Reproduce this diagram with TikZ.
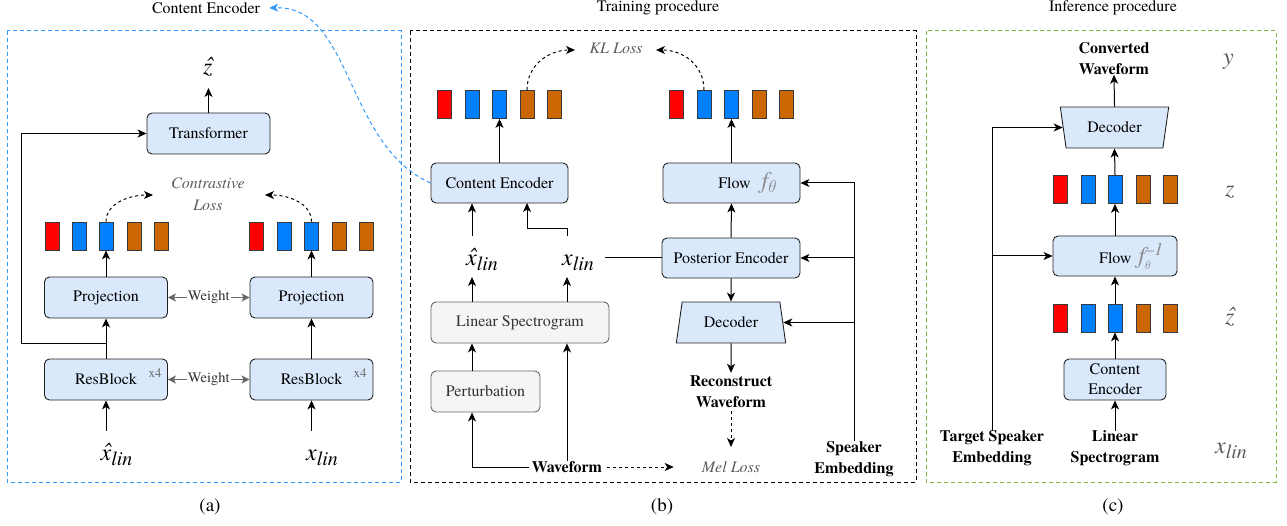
\documentclass[tikz,border=0pt]{standalone}
\usepackage{fontspec}
\setmainfont{texgyretermes}[Extension=.otf, UprightFont=*-regular, BoldFont=*-bold, ItalicFont=*-italic, BoldItalicFont=*-bolditalic]
\usetikzlibrary{arrows.meta,shapes.geometric,calc}
\definecolor{bfill}{HTML}{DAE8FC}
\definecolor{boxline}{HTML}{222222}
\definecolor{gfill}{HTML}{F5F5F5}
\definecolor{gline}{HTML}{666666}
\definecolor{txtg}{HTML}{333333}
\definecolor{gtxt}{HTML}{5A5A5A}
\definecolor{fgray}{HTML}{8A8A8A}
\definecolor{bred}{HTML}{FF0000}
\definecolor{bblue}{HTML}{007FFF}
\definecolor{borange}{HTML}{CC6600}
\definecolor{barline}{HTML}{36393D}
\definecolor{pblue}{HTML}{3399FF}
\definecolor{pgreen}{HTML}{7DB83A}
\newcommand\fsz[1]{\fontsize{#1}{21}\selectfont}
\newcommand\hatover[1]{\ooalign{#1\cr\hfil\hspace{2.5pt}\raisebox{1pt}{ˆ}\hfil\cr}}
\newcommand\mxl{{\fontsize{24}{24}\selectfont\itshape x}\raisebox{-5pt}{\fontsize{20}{20}\selectfont\itshape lin}}
\newcommand\mxhl{{\fontsize{24}{24}\selectfont\itshape \hatover{x}}\raisebox{-5pt}{\fontsize{20}{20}\selectfont\itshape lin}}
\newcommand\mzh{{\fontsize{24}{24}\selectfont\itshape \hatover{z}}}
\newcommand\fth{{\color{fgray}\fontsize{24}{24}\selectfont\itshape f\raisebox{-4pt}{\fontsize{16}{16}\selectfont $\theta$}}}
\newcommand\finv{{\color{fgray}\fontsize{24}{24}\selectfont\itshape f\rlap{\raisebox{8pt}{\fontsize{18}{18}\selectfont \textendash1}}\raisebox{-6pt}{\fontsize{12}{12}\selectfont $\theta$}\hspace{14pt}}}
\begin{document}
\begin{tikzpicture}[x=1pt,y=-1pt,
 box/.style={draw=boxline, fill=bfill, rounded corners=5pt, line width=0.9pt, inner sep=0pt, font=\fsz{16}, text=black},
 gbox/.style={box, fill=gfill, draw=gline, text=txtg},
 trap/.style={draw=boxline, fill=bfill, sharp corners, line width=0.9pt, inner sep=0pt, font=\fsz{16}, trapezium, trapezium stretches=true, minimum height=41pt},
 bar/.style={draw=barline, line width=0.8pt, minimum width=14pt, minimum height=28pt, inner sep=0pt},
 arr/.style={line width=1pt, -{Stealth[length=9pt,width=8pt,inset=2.5pt]}},
 ln/.style={line width=1pt},
 darr/.style={arr, dash pattern=on 3pt off 3pt},
 warr/.style={line width=1.2pt, draw=gline, {Stealth[length=8pt,width=8pt,inset=2pt]}-{Stealth[length=8pt,width=8pt,inset=2pt]}},
 wlbl/.style={fill=white, inner sep=1pt, text=txtg, font=\fsz{14.5}},
 lbl/.style={font=\fsz{16}, align=center, inner sep=0pt},
 blbl/.style={font=\bfseries\fsz{16}, align=center, inner sep=0pt},
 glbl/.style={font=\itshape\fsz{16}, text=gtxt, align=center, inner sep=0pt},
 mlbl/.style={anchor=base west, inner sep=0pt},
 panel/.style={line width=1pt, dash pattern=on 4pt off 3pt},
]
\useasboundingbox (0,0) rectangle (1287,526);
% panels
\draw[panel, draw=pblue] (7,31) rectangle (401,482);
\draw[panel, draw=black] (410,31) rectangle (916,482);
\draw[panel, draw=pgreen] (926,31) rectangle (1276,482);
% titles and captions
\node[lbl] (ceT) at (206,8) {Content Encoder};
\node[lbl] (trT) at (658,8) {Training procedure};
\node[lbl] (inT) at (1113,8) {Inference procedure};
\node[lbl, font=\fsz{19}] (capA) at (210,507) {(a)};
\node[lbl, font=\fsz{19}] (capB) at (662,507) {(b)};
\node[lbl, font=\fsz{19}] (capC) at (1113,507) {(c)};

% ---------------- panel (a)
\node[box, minimum width=123pt, minimum height=41pt] (trans) at (208.5,133.5) {Transformer};
\node[box, minimum width=123pt, minimum height=41pt] (projL) at (106,297.5) {Projection};
\node[box, minimum width=123pt, minimum height=41pt] (projR) at (311.5,297.5) {Projection};
\node[box, minimum width=123pt, minimum height=41pt] (resL) at (106,379.5) {ResBlock};
\node[box, minimum width=123pt, minimum height=41pt] (resR) at (311.5,379.5) {ResBlock};
\node[lbl, font=\fsz{13}, text=gline] (x4L) at (155,373) {x4};
\node[lbl, font=\fsz{13}, text=gline] (x4R) at (360,373) {x4};
\foreach \i/\x/\c in {1/52/bred,2/79/bblue,3/106/bblue,4/134/borange,5/161/borange}
  \node[bar, fill=\c] (aL\i) at (\x,236) {};
\foreach \i/\x/\c in {1/256/bred,2/284/bblue,3/311.5/bblue,4/339/borange,5/366/borange}
  \node[bar, fill=\c] (aR\i) at (\x,236) {};
\node[glbl, font=\itshape\fontsize{16}{22}\selectfont] (closs) at (208,194) {Contrastive\\Loss};
\node[mlbl] (zhA) at (203,75) {\mzh};
\node[mlbl] (xhA) at (100.5,460) {\mxhl};
\node[mlbl] (xA) at (306,460) {\mxl};
\coordinate (zAt) at (208.5,88);
\coordinate (inA) at (106,431);
\coordinate (inB) at (311.5,431);
\coordinate (skA) at (106,344);
\coordinate (clA) at (153,195);
\coordinate (clB) at (265,195);
\draw[arr] (trans.north) -- (zAt);
\draw[arr] (resL.north) -- (projL.south);
\draw[arr] (resR.north) -- (projR.south);
\draw[arr] (projL.north) -- (aL3.south);
\draw[arr] (projR.north) -- (aR3.south);
\draw[arr] (inA) -- (resL.south);
\draw[arr] (inB) -- (resR.south);
\draw[arr] (skA) -- (21,344) |- (trans.west);
\draw[warr] (projL.east) -- node[wlbl] {Weight} (projR.west);
\draw[warr] (resL.east) -- node[wlbl] {Weight} (resR.west);
\draw[darr] (aL3.north) .. controls (106,204) and (128,195) .. (clA);
\draw[darr] (aR3.north) .. controls (311.5,204) and (290,195) .. (clB);

% ---------------- panel (b)
\node[box, minimum width=137pt, minimum height=40pt] (ceB) at (499.5,183) {Content Encoder};
\node[box, minimum width=137pt, minimum height=40pt] (flowB) at (731.5,183) {\hspace*{32pt}Flow\hspace{11pt}\fth};
\node[box, minimum width=138pt, minimum height=40pt] (peB) at (731,258) {Posterior Encoder};
\node[trap, trapezium left angle=73.7, trapezium right angle=73.7, minimum width=110pt] (decB) at (731,322.5) {Decoder};
\node[gbox, minimum width=178pt, minimum height=41pt] (lsB) at (520,322.5) {Linear Spectrogram};
\node[gbox, minimum width=109pt, minimum height=41pt] (ptB) at (485.5,391.5) {Perturbation};
\foreach \i/\x/\c in {1/444/bred,2/472/bblue,3/499.5/bblue,4/527/borange,5/554/borange}
  \node[bar, fill=\c] (bL\i) at (\x,104.5) {};
\foreach \i/\x/\c in {1/676/bred,2/704/bblue,3/731.5/bblue,4/759/borange,5/786/borange}
  \node[bar, fill=\c] (bR\i) at (\x,104.5) {};
\node[glbl] (kl) at (616,48) {KL Loss};
\node[mlbl] (xhB) at (466,266) {\mxhl};
\node[mlbl] (xB) at (562,266) {\mxl};
\node[blbl, inner sep=3pt] (rw) at (731,392) {Reconstruct\\Waveform};
\node[glbl] (mel) at (731,467) {Mel Loss};
\node[blbl] (wave) at (567,467) {Waveform};
\node[blbl] (spk) at (854,459) {Speaker\\Embedding};
\coordinate (c1) at (472,0);
\coordinate (c2) at (567,0);
\coordinate (klA) at (575,50);
\coordinate (klB) at (656,50);
\coordinate (melTop) at (731,447);
\coordinate (xlTop) at (567,236);
\coordinate (xhTop) at (472,236);
\coordinate (xBot) at (567,277);
\coordinate (xhBot) at (472,277);
\draw[arr] (ceB.north) -- (bL3.south);
\draw[arr] (flowB.north) -- (bR3.south);
\draw[darr] (bL4.north) .. controls (527,64) and (550,50) .. (klA);
\draw[darr] (bR2.north) .. controls (704,64) and (682,50) .. (klB);
\draw[arr] (xhTop) -- (c1 |- ceB.south);
\draw[arr] (xlTop) -- (567,229) -- (527,229) -- (527,203);
\draw[ln] (605,258) -- (peB.west);
\draw[arr] (peB.north) -- (flowB.south);
\draw[arr] (peB.south) -- (decB.north);
\draw[arr] (decB.south) -- (rw.north);
\draw[darr] (rw.south) -- (melTop);
\draw[arr] (spk.north) |- (flowB.east);
\draw[arr] (spk.north |- peB.east) -- (peB.east);
\draw[arr] (spk.north |- decB.east) -- (decB.east);
\draw[arr] ([xshift=-3pt]wave.west) -| (c1 |- ptB.south);
\draw[arr] (c2 |- wave.north) -- (c2 |- lsB.south);
\draw[arr] (c1 |- ptB.north) -- (c1 |- lsB.south);
\draw[arr] (c1 |- lsB.north) -- (xhBot);
\draw[arr] (c2 |- lsB.north) -- (xBot);
\draw[darr] ([xshift=5pt]wave.east) -- ([xshift=-28pt]mel.west);
\draw[pblue, line width=1pt, dash pattern=on 4pt off 3pt, -{Stealth[length=9pt,width=8pt,inset=2.5pt]}] (ceB.west) .. controls (345,145) and (352,5) .. ([xshift=9pt]ceT.east);

% ---------------- panel (c)
\node[blbl] (convW) at (1114,58.5) {Converted\\Waveform};
\node[trap, trapezium left angle=106.3, trapezium right angle=106.3, minimum width=109pt] (decC) at (1114.5,127.5) {Decoder};
\foreach \i/\x/\c in {1/1060/bred,2/1088/bblue,3/1115/bblue,4/1143/borange,5/1170/borange}
  \node[bar, fill=\c] (cT\i) at (\x,189.5) {};
\node[box, minimum width=124pt, minimum height=40pt] (flowC) at (1115,256) {\hspace*{34pt}Flow\hspace{7pt}\finv};
\foreach \i/\x/\c in {1/1060/bred,2/1088/bblue,3/1115/bblue,4/1143/borange,5/1170/borange}
  \node[bar, fill=\c] (cB\i) at (\x,318) {};
\node[box, minimum width=102pt, minimum height=41pt, align=center, font=\fontsize{16}{20}\selectfont] (ceC) at (1115,379.5) {Content\\Encoder};
\node[blbl] (lsC) at (1115,448.5) {Linear\\Spectrogram};
\node[blbl] (tsE) at (992,448.5) {Target Speaker\\Embedding};
\node[mlbl, text=gtxt] (yC) at (1223,65) {\fontsize{24}{24}\selectfont\itshape y};
\node[mlbl, text=gtxt] (zC) at (1225,197) {\fontsize{24}{24}\selectfont\itshape z};
\node[mlbl, text=gtxt] (zhC) at (1225,325) {\mzh};
\node[mlbl, text=gtxt] (xC) at (1215,453) {\mxl};
\draw[arr] (decC.north) -- (convW.south);
\draw[arr] (cT3.north) -- (decC.south);
\draw[arr] (flowC.north) -- (cT3.south);
\draw[arr] (cB3.north) -- (flowC.south);
\draw[arr] (ceC.north) -- (cB3.south);
\draw[arr] (lsC.north) -- (ceC.south);
\draw[arr] (tsE.north) |- (decC.west);
\draw[arr] (tsE.north |- flowC.west) -- (flowC.west);
\end{tikzpicture}
\end{document}
